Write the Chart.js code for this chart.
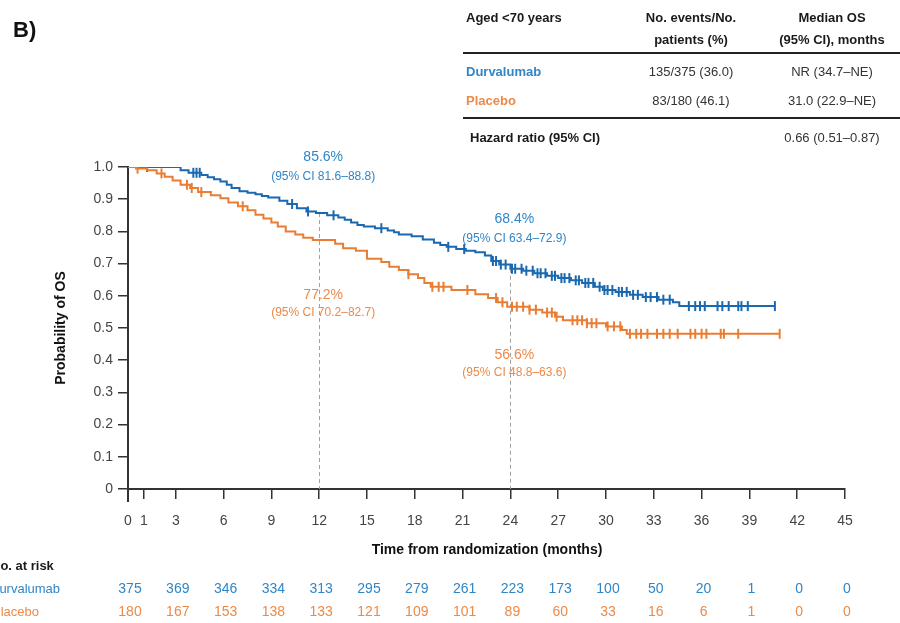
<!DOCTYPE html>
<html>
<head>
<meta charset="utf-8">
<script src="https://cdn.jsdelivr.net/npm/chart.js@4"></script>
<style>
html, body { margin: 0; padding: 0; background: #fff; }
canvas { display: block; }
</style>
</head>
<body>
<canvas id="grafica" width="900" height="623"></canvas>
<script>
// tick labels
const xTicks = [0, 1, 3, 6, 9, 12, 15, 18, 21, 24, 27, 30, 33, 36, 39, 42, 45];
const yTicks = [0, 0.1, 0.2, 0.3, 0.4, 0.5, 0.6, 0.7, 0.8, 0.9, 1.0];

// Kaplan-Meier steps (time in months, probability after the step)
const durvaTimes = [0, 3.3, 3.8, 4.6, 5.0, 5.4, 5.8, 6.2, 6.5, 7.0, 7.5, 8.0, 8.4, 8.8, 9.5, 10.0, 10.6, 11.2, 11.8, 12.5, 13.2, 13.6, 14.0, 14.4, 14.8, 15.5, 16.3, 16.7, 17.0, 17.8, 18.5, 19.2, 19.6, 20.0, 20.6, 21.2, 21.8, 22.4, 22.8, 23.3, 24.0, 24.8, 25.5, 26.3, 27.0, 27.8, 28.5, 29.3, 29.8, 30.6, 31.5, 32.3, 33.3, 34.2, 34.6];
const durvaSurv = [1.0, 0.99, 0.982, 0.975, 0.968, 0.962, 0.955, 0.945, 0.935, 0.925, 0.92, 0.915, 0.91, 0.905, 0.895, 0.885, 0.872, 0.862, 0.857, 0.85, 0.843, 0.836, 0.828, 0.82, 0.815, 0.81, 0.803, 0.797, 0.79, 0.785, 0.775, 0.765, 0.758, 0.752, 0.745, 0.74, 0.735, 0.725, 0.708, 0.697, 0.684, 0.678, 0.67, 0.662, 0.655, 0.648, 0.64, 0.628, 0.618, 0.612, 0.603, 0.596, 0.588, 0.58, 0.568];
const durvaCensor = [1.2, 4.1, 4.3, 4.5, 10.3, 11.3, 12.9, 15.9, 20.1, 21.1, 22.9, 23.1, 23.4, 23.7, 24.1, 24.3, 24.7, 25.0, 25.4, 25.7, 25.9, 26.2, 26.6, 26.8, 27.2, 27.4, 27.7, 28.1, 28.3, 28.7, 28.9, 29.2, 29.6, 29.9, 30.1, 30.4, 30.8, 31.0, 31.3, 31.7, 32.0, 32.5, 32.8, 33.2, 33.6, 34.0, 35.2, 35.6, 35.9, 36.2, 37.0, 37.3, 37.7, 38.3, 38.5, 38.9, 40.6];

const placeboTimes = [0, 0.5, 1.2, 1.8, 2.3, 2.8, 3.3, 3.9, 4.4, 5.2, 5.8, 6.3, 6.9, 7.5, 8.0, 8.5, 9.0, 9.4, 9.9, 10.5, 11.0, 11.6, 13.0, 13.5, 14.3, 15.0, 15.9, 16.4, 17.0, 17.6, 18.2, 18.6, 19.0, 20.3, 21.8, 22.6, 23.2, 23.8, 25.2, 26.0, 26.8, 27.3, 28.8, 30.0, 31.0, 31.3];
const placeboSurv = [1.0, 0.995, 0.99, 0.98, 0.97, 0.958, 0.945, 0.935, 0.922, 0.912, 0.903, 0.89, 0.878, 0.866, 0.852, 0.84, 0.828, 0.815, 0.80, 0.79, 0.78, 0.773, 0.762, 0.748, 0.74, 0.715, 0.705, 0.69, 0.68, 0.667, 0.655, 0.64, 0.628, 0.618, 0.605, 0.593, 0.58, 0.566, 0.557, 0.548, 0.535, 0.524, 0.515, 0.505, 0.494, 0.482];
const placeboCensor = [0.6, 2.1, 3.7, 4.0, 4.6, 7.2, 17.6, 19.1, 19.5, 19.8, 21.3, 23.1, 23.5, 24.1, 24.4, 24.8, 25.2, 25.6, 26.3, 26.6, 26.9, 27.9, 28.2, 28.5, 28.8, 29.1, 29.4, 30.1, 30.5, 30.9, 31.5, 31.9, 32.2, 32.6, 33.2, 33.6, 34.0, 34.5, 35.3, 35.6, 36.0, 36.3, 37.2, 37.4, 38.3, 40.9];

// number at risk
const riskTimes = [0, 3, 6, 9, 12, 15, 18, 21, 24, 27, 30, 33, 36, 39, 42, 45];
const riskDurva = [375, 369, 346, 334, 313, 295, 279, 261, 223, 173, 100, 50, 20, 1, 0, 0];
const riskPlacebo = [180, 167, 153, 138, 133, 121, 109, 101, 89, 60, 33, 16, 6, 1, 0, 0];

// landmark estimates
const landmarkTimes = [12, 24];
const durvaLandmark = ["85.6%", "68.4%"];
const durvaLandmarkCI = ["(95% CI 81.6\u201388.8)", "(95% CI 63.4\u201372.9)"];
const placeboLandmark = ["77.2%", "56.6%"];
const placeboLandmarkCI = ["(95% CI 70.2\u201382.7)", "(95% CI 48.8\u201363.6)"];

// summary table
const armNames = ["Durvalumab", "Placebo"];
const armEvents = ["135/375 (36.0)", "83/180 (46.1)"];
const armMedian = ["NR (34.7\u2013NE)", "31.0 (22.9\u2013NE)"];
const hazardRatio = "0.66 (0.51\u20130.87)";

const blueLine = "#1a69b0";
const blueText = "#2f86c8";
const orangeLine = "#e97d33";
const orangeText = "#eb8a49";
const FONT = '"Liberation Sans", Arial, sans-serif';

function survAt(times, surv, t) {
    let s = surv[0];
    for (let i = 0; i < times.length; i++) {
        if (times[i] <= t) s = surv[i];
    }
    return s;
}

function buildCurve(times, surv, censor) {
    const pts = times.map((t, i) => ({ x: t, y: surv[i], c: false }));
    censor.forEach(t => pts.push({ x: t, y: survAt(times, surv, t), c: true }));
    pts.sort((a, b) => a.x - b.x || (a.c ? 1 : -1));
    return pts;
}

const extras = {
    id: "extras",
    beforeDatasetsDraw(chart) {
        const { ctx, scales: { x, y } } = chart;
        ctx.save();
        ctx.setLineDash([4, 3]);
        ctx.strokeStyle = "#a0a0a0";
        ctx.lineWidth = 1;
        landmarkTimes.forEach(t => {
            const px = Math.round(x.getPixelForValue(t)) + 0.5;
            const top = y.getPixelForValue(survAt(durvaTimes, durvaSurv, t));
            ctx.beginPath();
            ctx.moveTo(px, top);
            ctx.lineTo(px, y.bottom);
            ctx.stroke();
        });
        ctx.restore();
    },
    afterDraw(chart) {
        const { ctx, scales: { x, y } } = chart;
        ctx.save();

        // axis extension below origin
        ctx.strokeStyle = "#333";
        ctx.lineWidth = 2;
        ctx.beginPath();
        ctx.moveTo(x.left, y.bottom);
        ctx.lineTo(x.left, y.bottom + 13);
        ctx.stroke();

        ctx.textBaseline = "middle";

        // panel letter
        ctx.fillStyle = "#111";
        ctx.font = "bold 22px " + FONT;
        ctx.textAlign = "left";
        ctx.fillText("B)", 13, 31);

        // axis titles
        ctx.font = "bold 14px " + FONT;
        ctx.textAlign = "center";
        ctx.fillText("Time from randomization (months)", 487, 550);
        ctx.save();
        ctx.translate(61, 328);
        ctx.rotate(-Math.PI / 2);
        ctx.fillText("Probability of OS", 0, 0);
        ctx.restore();

        // landmark labels
        landmarkTimes.forEach((t, i) => {
            const px = x.getPixelForValue(t) + 4;
            const yb = y.getPixelForValue(survAt(durvaTimes, durvaSurv, t));
            const yo = y.getPixelForValue(survAt(placeboTimes, placeboSurv, t));
            ctx.fillStyle = blueText;
            ctx.font = "14px " + FONT;
            ctx.fillText(durvaLandmark[i], px, yb - (i === 0 ? 56 : 50));
            ctx.font = "12px " + FONT;
            ctx.fillText(durvaLandmarkCI[i], px, yb - (i === 0 ? 36 : 30));
            ctx.fillStyle = orangeText;
            ctx.font = "14px " + FONT;
            ctx.fillText(placeboLandmark[i], px, yo + (i === 0 ? 55 : 48));
            ctx.font = "12px " + FONT;
            ctx.fillText(placeboLandmarkCI[i], px, yo + (i === 0 ? 73 : 66));
        });

        // summary table
        const c1 = 466, c2 = 691, c3 = 832;
        ctx.fillStyle = "#1a1a1a";
        ctx.font = "bold 13px " + FONT;
        ctx.textAlign = "left";
        ctx.fillText("Aged <70 years", c1, 18);
        ctx.textAlign = "center";
        ctx.fillText("No. events/No.", c2, 18);
        ctx.fillText("patients (%)", c2, 40);
        ctx.fillText("Median OS", c3, 18);
        ctx.fillText("(95% CI), months", c3, 40);
        ctx.strokeStyle = "#222";
        ctx.lineWidth = 2;
        [53, 118].forEach(ly => {
            ctx.beginPath();
            ctx.moveTo(463, ly);
            ctx.lineTo(900, ly);
            ctx.stroke();
        });
        const rowY = [72, 101];
        const armColors = [blueText, orangeText];
        armNames.forEach((name, i) => {
            ctx.font = "bold 13px " + FONT;
            ctx.textAlign = "left";
            ctx.fillStyle = armColors[i];
            ctx.fillText(name, c1, rowY[i]);
            ctx.font = "13px " + FONT;
            ctx.textAlign = "center";
            ctx.fillStyle = "#333";
            ctx.fillText(armEvents[i], c2, rowY[i]);
            ctx.fillText(armMedian[i], c3, rowY[i]);
        });
        ctx.font = "bold 13px " + FONT;
        ctx.textAlign = "left";
        ctx.fillStyle = "#1a1a1a";
        ctx.fillText("Hazard ratio (95% CI)", 470, 138);
        ctx.font = "13px " + FONT;
        ctx.textAlign = "center";
        ctx.fillStyle = "#333";
        ctx.fillText(hazardRatio, c3, 138);

        // number at risk
        ctx.textAlign = "left";
        ctx.font = "bold 13px " + FONT;
        ctx.fillStyle = "#1a1a1a";
        ctx.fillText("No. at risk", -9, 566);
        ctx.font = "13px " + FONT;
        ctx.fillStyle = blueText;
        ctx.fillText(armNames[0], -10, 589);
        ctx.fillStyle = orangeText;
        ctx.fillText(armNames[1], -8, 612);
        ctx.font = "14px " + FONT;
        ctx.textAlign = "center";
        riskTimes.forEach((t, i) => {
            const px = x.getPixelForValue(t) + 2;
            ctx.fillStyle = blueText;
            ctx.fillText(String(riskDurva[i]), px, 589);
            ctx.fillStyle = orangeText;
            ctx.fillText(String(riskPlacebo[i]), px, 612);
        });
        ctx.restore();
    }
};

const ctx = document.getElementById("grafica").getContext("2d");

new Chart(ctx, {
    type: "line",
    data: {
        datasets: [
            {
                label: "Placebo",
                data: buildCurve(placeboTimes, placeboSurv, placeboCensor),
                borderColor: orangeLine,
                borderWidth: 2,
                stepped: "before",
                fill: false,
                pointStyle: "line",
                pointRotation: 90,
                pointRadius: c => (c.raw && c.raw.c ? 5 : 0),
                pointBorderWidth: 2,
                pointBorderColor: orangeLine,
                pointHoverRadius: 0
            },
            {
                label: "Durvalumab",
                data: buildCurve(durvaTimes, durvaSurv, durvaCensor),
                borderColor: blueLine,
                borderWidth: 2,
                stepped: "before",
                fill: false,
                pointStyle: "line",
                pointRotation: 90,
                pointRadius: c => (c.raw && c.raw.c ? 5 : 0),
                pointBorderWidth: 2,
                pointBorderColor: blueLine,
                pointHoverRadius: 0
            }
        ]
    },
    options: {
        responsive: false,
        animation: false,
        devicePixelRatio: 1,
        layout: { padding: { left: 0, right: 55, top: 167, bottom: 0 } },
        plugins: {
            legend: { display: false },
            tooltip: { enabled: false }
        },
        scales: {
            x: {
                type: "linear",
                min: 0,
                max: 45,
                afterBuildTicks: s => { s.ticks = xTicks.map(v => ({ value: v })); },
                afterFit: s => { s.height = 134; },
                grid: { drawOnChartArea: false, color: "#333", tickLength: 10, lineWidth: 1.5 },
                border: { color: "#333", width: 2 },
                ticks: { color: "#444", font: { size: 14, family: FONT }, padding: 14, maxRotation: 0, autoSkip: false }
            },
            y: {
                type: "linear",
                min: 0,
                max: 1,
                afterBuildTicks: s => { s.ticks = yTicks.map(v => ({ value: v })); },
                afterFit: s => { s.width = 128; },
                grid: { drawOnChartArea: false, color: "#333", tickLength: 10, lineWidth: 1.5 },
                border: { color: "#333", width: 2 },
                ticks: {
                    color: "#444",
                    font: { size: 14, family: FONT },
                    padding: 5,
                    callback: v => (v === 0 ? "0" : v.toFixed(1))
                }
            }
        }
    },
    plugins: [extras]
});
</script>
</body>
</html>
